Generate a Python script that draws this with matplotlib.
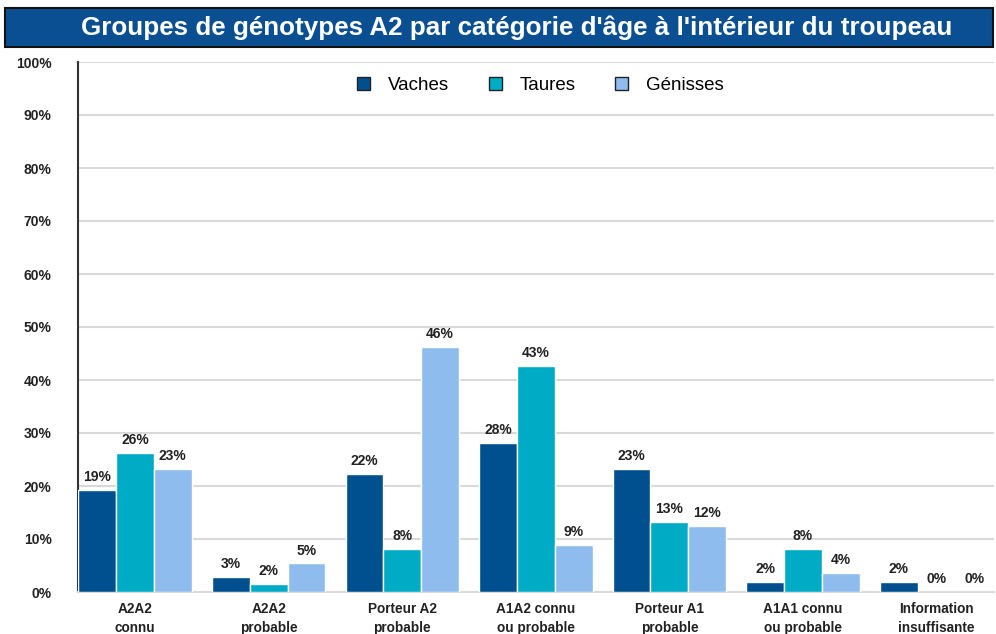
import matplotlib.pyplot as plt
import numpy as np
from matplotlib.patches import Rectangle

plt.rcParams['font.family'] = ['Liberation Sans', 'DejaVu Sans']

# data
categories = ['A2A2\nconnu', 'A2A2\nprobable', 'Porteur A2\nprobable', 'A1A2 connu\nou probable',
              'Porteur A1\nprobable', 'A1A1 connu\nou probable', 'Information\ninsuffisante']
vaches = [19.2, 2.8, 22.3, 28.1, 23.2, 1.9, 1.9]
taures = [26.2, 1.5, 8.1, 42.6, 13.2, 8.1, 0.0]
genisses = [23.2, 5.4, 46.2, 8.9, 12.4, 3.6, 0.0]
series_names = ['Vaches', 'Taures', 'Génisses']
colors = ['#00508F', '#00ABC6', '#8EBCEE']
yticks = [0, 10, 20, 30, 40, 50, 60, 70, 80, 90, 100]

fig = plt.figure(figsize=(9.96, 6.34), dpi=100)

# title banner
fig.patches.append(Rectangle((5/996, 1-47/634), 988/996, 39/634, transform=fig.transFigure,
                             facecolor='#0B4F93', edgecolor='#111111', linewidth=1.5))
fig.text(517/996, 1-28/634, "Groupes de génotypes A2 par catégorie d'âge à l'intérieur du troupeau",
         ha='center', va='center', color='white', fontsize=18.7, fontweight='bold')

ax = fig.add_axes([78/996, 42/634, (994-78)/996, 530/634])
x = np.arange(len(categories))
w = 0.283
for i, (vals, name, c) in enumerate(zip([vaches, taures, genisses], series_names, colors)):
    xs = x + (i - 1) * w
    ax.bar(xs, vals, width=w, color=c, edgecolor='white', linewidth=1, label=name, zorder=3)
    for xx, v in zip(xs, vals):
        ax.text(xx, v + 1.1, f'{round(v):.0f}%', ha='center', va='bottom',
                fontsize=10, fontweight='bold', color='#222222')

ax.set_xlim(-0.427, 6.43)
ax.set_ylim(0, 100)
ax.set_yticks(yticks)
ax.set_yticklabels([f'{t}%' for t in yticks], fontsize=10, fontweight='bold', color='#222222')
ax.set_xticks(x)
ax.set_xticklabels(categories, fontsize=9.8, fontweight='bold', color='#222222', linespacing=1.45)
ax.tick_params(axis='both', length=0)
ax.tick_params(axis='y', pad=19)
ax.tick_params(axis='x', pad=7)
ax.grid(axis='y', color='#D9D9D9', linewidth=1.5, zorder=0)
for s in ['top', 'right']:
    ax.spines[s].set_visible(False)
ax.spines['left'].set_color('#333333')
ax.spines['left'].set_linewidth(1.5)
ax.spines['bottom'].set_color('#D9D9D9')
ax.spines['bottom'].set_linewidth(1.5)

leg = ax.legend(loc='upper center', bbox_to_anchor=(0.505, 1.003), ncol=3, frameon=False,
                fontsize=13.5, handlelength=0.7, handleheight=0.7, columnspacing=2.1, handletextpad=0.95)
for h in leg.legend_handles:
    h.set_edgecolor('#222222')
    h.set_linewidth(1)

fig.savefig('out.png', dpi=100)
